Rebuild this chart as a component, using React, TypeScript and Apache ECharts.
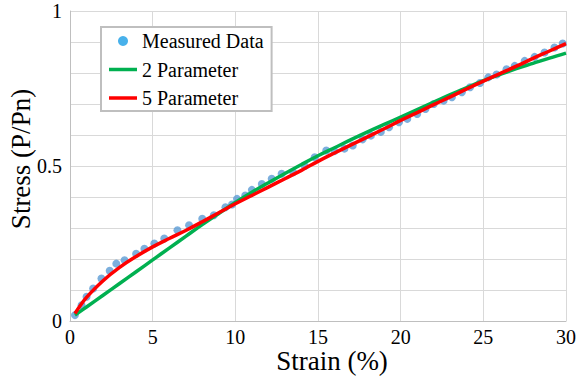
import React, { useEffect, useRef } from "react";
import * as echarts from "echarts";

const measuredStrain = [
  0.3, 0.7, 1.0, 1.4, 1.9, 2.4, 2.8, 3.3, 4.0, 4.5, 5.1, 5.7, 6.5, 7.2, 8.0, 8.7, 9.4, 9.8, 10.1, 10.6,
  11.0, 11.6, 12.2, 12.8, 13.5, 14.2, 14.8, 15.5, 16.0, 16.6, 17.1, 17.7, 18.2, 18.8, 19.3, 19.9, 20.4, 21.0,
  21.5, 22.0, 22.6, 23.1, 23.7, 24.2, 24.8, 25.3, 25.8, 26.4, 26.9, 27.5, 28.1, 28.7, 29.3, 29.8,
];
const measuredStress = [
  0.019, 0.051, 0.078, 0.105, 0.137, 0.162, 0.185, 0.196, 0.217, 0.233, 0.25, 0.266, 0.293, 0.309, 0.33, 0.341,
  0.367, 0.376, 0.394, 0.405, 0.423, 0.442, 0.459, 0.475, 0.48, 0.5, 0.528, 0.55, 0.548, 0.556, 0.566, 0.586,
  0.598, 0.61, 0.625, 0.641, 0.652, 0.668, 0.684, 0.7, 0.711, 0.722, 0.738, 0.754, 0.768, 0.786, 0.795, 0.812,
  0.823, 0.839, 0.852, 0.866, 0.882, 0.895,
];

const curveStrain = [
  0.3, 1, 2, 3, 4, 5, 6, 7, 8, 9, 10, 11, 12, 13, 14, 15, 16, 17, 18, 19, 20, 21, 22, 23, 24, 25, 26, 27, 28, 29, 30,
];
const fit5Stress = [
  0.024, 0.076, 0.13, 0.173, 0.208, 0.239, 0.266, 0.292, 0.32, 0.349, 0.378, 0.405, 0.432, 0.459, 0.486, 0.515,
  0.542, 0.568, 0.594, 0.62, 0.647, 0.672, 0.698, 0.723, 0.749, 0.774, 0.798, 0.822, 0.847, 0.871, 0.895,
];
const fit2Stress = [
  0.019, 0.045, 0.083, 0.121, 0.159, 0.197, 0.235, 0.273, 0.311, 0.347, 0.382, 0.415, 0.446, 0.476, 0.505, 0.533,
  0.559, 0.585, 0.61, 0.634, 0.658, 0.682, 0.706, 0.73, 0.753, 0.775, 0.795, 0.814, 0.831, 0.848, 0.864,
];

const FONT = "Liberation Serif";
const LINE_ICON = "path://M0,0 L28,0 L28,3.5 L0,3.5 Z";

export default function App() {
  const ref = useRef<HTMLDivElement>(null);
  useEffect(() => {
    if (!ref.current) return;
    const chart = echarts.init(ref.current, undefined, { renderer: "svg" });
    const zip = (xs: number[], ys: number[]) => xs.map((x, i) => [x, ys[i]]);
    chart.setOption({
      animation: false,
      backgroundColor: "#fff",
      textStyle: { fontFamily: FONT },
      grid: { left: 70, right: 13, top: 11, bottom: 59, outerBoundsMode: "none", containLabel: false },
      legend: {
        orient: "vertical",
        left: 101,
        top: 27,
        width: 180,
        padding: [4, 8, 3, 8],
        borderColor: "#bfbfbf",
        borderWidth: 2,
        backgroundColor: "#fff",
        itemWidth: 28,
        itemHeight: 10,
        itemGap: 8.5,
        symbolKeepAspect: true,
        textStyle: { fontFamily: FONT, fontSize: 20, color: "#000", lineHeight: 20 },
        data: [
          { name: "Measured Data", icon: "circle", itemStyle: { color: "#1a9de6" } },
          { name: "2 Parameter", icon: LINE_ICON, itemStyle: { color: "#00b050" } },
          { name: "5 Parameter", icon: LINE_ICON, itemStyle: { color: "#ff0000" } },
        ],
      },
      xAxis: {
        type: "value",
        min: 0,
        max: 30,
        interval: 5,
        name: "Strain (%)",
        nameLocation: "middle",
        nameGap: 29,
        nameMoveOverlap: false,
        nameTextStyle: {
          fontFamily: FONT,
          fontSize: 27,
          lineHeight: 22,
          color: "#000",
          padding: [0, 0, 0, 28],
        },
        axisLine: { show: true, lineStyle: { color: "#bfbfbf", width: 1 } },
        axisTick: { show: false },
        axisLabel: { fontFamily: FONT, fontSize: 20, color: "#000", margin: 6 },
        splitLine: { show: true, lineStyle: { color: "#d9d9d9", width: 1 } },
      },
      yAxis: {
        type: "value",
        min: 0,
        max: 1,
        interval: 0.1,
        name: "Stress (P/Pn)",
        nameLocation: "middle",
        nameGap: 36,
        nameMoveOverlap: false,
        nameTextStyle: { fontFamily: FONT, fontSize: 27, color: "#000", padding: [0, 0, 0, 14] },
        axisLine: { show: true, lineStyle: { color: "#bfbfbf", width: 1 } },
        axisTick: { show: false },
        axisLabel: {
          fontFamily: FONT,
          fontSize: 20,
          color: "#000",
          margin: 8,
          formatter: (v: number) => {
            const k = Math.round(v * 10);
            return k % 5 === 0 ? String(k / 10) : "";
          },
        },
        splitLine: { show: true, lineStyle: { color: "#d9d9d9", width: 1 } },
      },
      series: [
        {
          name: "Measured Data",
          type: "scatter",
          data: zip(measuredStrain, measuredStress),
          symbol: "circle",
          symbolSize: 8,
          itemStyle: { color: "#5b9bd5" },
          z: 1,
        },
        {
          name: "2 Parameter",
          type: "line",
          data: zip(curveStrain, fit2Stress),
          smooth: 0.4,
          showSymbol: false,
          symbol: "none",
          lineStyle: { color: "#00b050", width: 3.5 },
          itemStyle: { color: "#00b050" },
          z: 2,
        },
        {
          name: "5 Parameter",
          type: "line",
          data: zip(curveStrain, fit5Stress),
          smooth: 0.4,
          showSymbol: false,
          symbol: "none",
          lineStyle: { color: "#ff0000", width: 3.5 },
          itemStyle: { color: "#ff0000" },
          z: 3,
        },
      ],
    });
    return () => chart.dispose();
  }, []);
  return (
    <div
      ref={ref}
      style={{ position: "absolute", left: 0, top: 0, width: 579, height: 380 }}
    />
  );
}
